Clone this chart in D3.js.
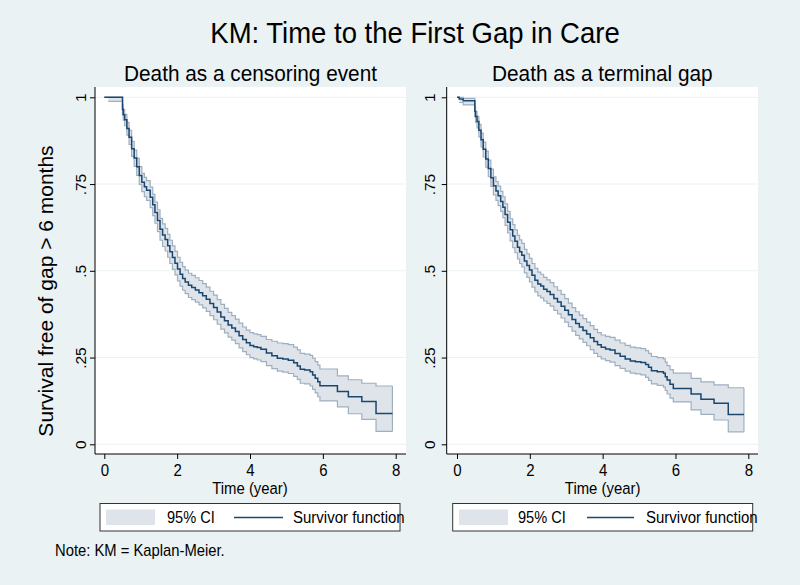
<!DOCTYPE html>
<html>
<head>
<meta charset="utf-8">
<script src="https://cdn.jsdelivr.net/npm/d3@7/dist/d3.min.js"></script>
<style>
  html, body { margin: 0; padding: 0; background: #eaf2f3; }
  svg { display: block; font-family: "Liberation Sans", Arial, Helvetica, sans-serif; }
</style>
</head>
<body>
<svg id="chart" width="800" height="585"></svg>
<script>
// ---------------- data ----------------
const chartTitle = "KM: Time to the First Gap in Care";
const panelTitles = ["Death as a censoring event", "Death as a terminal gap"];
const yTitle = "Survival free of gap > 6 months";
const xTitle = "Time (year)";
const noteText = "Note: KM = Kaplan-Meier.";
const legendLabels = ["95% CI", "Survivor function"];
const xTicks = [0, 2, 4, 6, 8];
const yTicks = [0, 0.25, 0.5, 0.75, 1];
const yTickLabels = ["0", ".25", ".5", ".75", "1"];

// Panel 1: death as a censoring event
const leftTime = [0, 0.11, 0.5, 0.52, 0.56, 0.62, 0.68, 0.75, 0.82, 0.89, 0.96, 1.03, 1.1, 1.16, 1.26, 1.33, 1.39, 1.46, 1.53, 1.6, 1.67, 1.74, 1.8, 1.87, 1.94, 2.01, 2.08, 2.15, 2.22, 2.31, 2.4, 2.5, 2.6, 2.7, 2.8, 2.9, 3.0, 3.1, 3.2, 3.3, 3.4, 3.5, 3.6, 3.7, 3.8, 3.9, 4.0, 4.1, 4.2, 4.3, 4.45, 4.6, 4.75, 4.9, 5.05, 5.2, 5.3, 5.38, 5.5, 5.65, 5.72, 5.79, 5.86, 5.92, 6.4, 6.7, 7.07, 7.46, 7.91];
const leftSurv = [1, 1, 0.965, 0.95, 0.935, 0.91, 0.885, 0.852, 0.825, 0.80, 0.775, 0.755, 0.742, 0.732, 0.712, 0.69, 0.668, 0.645, 0.62, 0.603, 0.59, 0.572, 0.555, 0.538, 0.522, 0.505, 0.49, 0.478, 0.468, 0.458, 0.452, 0.445, 0.437, 0.428, 0.418, 0.406, 0.394, 0.381, 0.367, 0.356, 0.344, 0.335, 0.325, 0.313, 0.302, 0.293, 0.285, 0.281, 0.279, 0.274, 0.263, 0.255, 0.248, 0.246, 0.242, 0.235, 0.226, 0.216, 0.214, 0.209, 0.2, 0.19, 0.18, 0.169, 0.152, 0.137, 0.123, 0.089, 0.089];
const leftLow = [1, 0.988, 0.95, 0.934, 0.918, 0.891, 0.864, 0.83, 0.801, 0.775, 0.749, 0.728, 0.714, 0.703, 0.682, 0.659, 0.637, 0.613, 0.588, 0.57, 0.557, 0.539, 0.521, 0.504, 0.488, 0.471, 0.456, 0.444, 0.434, 0.423, 0.417, 0.41, 0.402, 0.393, 0.383, 0.371, 0.359, 0.346, 0.332, 0.321, 0.309, 0.3, 0.29, 0.278, 0.267, 0.258, 0.25, 0.246, 0.243, 0.238, 0.227, 0.218, 0.211, 0.208, 0.204, 0.196, 0.187, 0.176, 0.174, 0.168, 0.158, 0.148, 0.137, 0.125, 0.108, 0.088, 0.072, 0.037, 0.037];
const leftHigh = [1, 1, 0.978, 0.965, 0.951, 0.928, 0.905, 0.873, 0.848, 0.824, 0.80, 0.781, 0.769, 0.76, 0.741, 0.72, 0.698, 0.676, 0.651, 0.635, 0.622, 0.605, 0.588, 0.572, 0.556, 0.539, 0.524, 0.512, 0.502, 0.493, 0.487, 0.48, 0.472, 0.463, 0.453, 0.441, 0.43, 0.417, 0.403, 0.392, 0.38, 0.371, 0.361, 0.349, 0.338, 0.329, 0.322, 0.318, 0.316, 0.311, 0.302, 0.297, 0.292, 0.29, 0.287, 0.28, 0.272, 0.262, 0.26, 0.256, 0.248, 0.238, 0.228, 0.217, 0.197, 0.186, 0.176, 0.168, 0.168];

// Panel 2: death as a terminal gap
const rightTime = [0, 0.06, 0.17, 0.49, 0.51, 0.55, 0.6, 0.66, 0.72, 0.79, 0.86, 0.93, 1.0, 1.07, 1.13, 1.2, 1.26, 1.32, 1.39, 1.46, 1.53, 1.59, 1.66, 1.72, 1.78, 1.85, 1.92, 1.99, 2.06, 2.14, 2.22, 2.3, 2.38, 2.47, 2.56, 2.66, 2.76, 2.86, 2.96, 3.06, 3.16, 3.26, 3.36, 3.46, 3.56, 3.66, 3.76, 3.86, 3.96, 4.08, 4.2, 4.34, 4.48, 4.62, 4.76, 4.9, 5.05, 5.18, 5.26, 5.34, 5.5, 5.67, 5.72, 5.77, 5.85, 5.94, 6.43, 6.7, 7.06, 7.45, 7.88];
const rightSurv = [1, 0.995, 0.99, 0.96, 0.945, 0.93, 0.905, 0.878, 0.85, 0.822, 0.795, 0.768, 0.745, 0.73, 0.716, 0.7, 0.683, 0.662, 0.64, 0.618, 0.6, 0.585, 0.568, 0.555, 0.545, 0.528, 0.515, 0.502, 0.487, 0.473, 0.462, 0.456, 0.447, 0.44, 0.432, 0.42, 0.41, 0.398, 0.386, 0.373, 0.36, 0.348, 0.338, 0.328, 0.318, 0.307, 0.296, 0.287, 0.28, 0.275, 0.272, 0.262, 0.254, 0.246, 0.24, 0.238, 0.236, 0.23, 0.222, 0.212, 0.209, 0.205, 0.195, 0.185, 0.173, 0.161, 0.145, 0.13, 0.118, 0.086, 0.086];
const rightLow = [1, 0.985, 0.978, 0.944, 0.928, 0.912, 0.886, 0.857, 0.828, 0.799, 0.771, 0.743, 0.719, 0.703, 0.688, 0.671, 0.653, 0.631, 0.609, 0.586, 0.567, 0.552, 0.534, 0.521, 0.511, 0.494, 0.481, 0.468, 0.453, 0.439, 0.428, 0.422, 0.413, 0.406, 0.398, 0.386, 0.376, 0.364, 0.352, 0.339, 0.326, 0.314, 0.304, 0.294, 0.284, 0.273, 0.262, 0.253, 0.246, 0.241, 0.237, 0.227, 0.219, 0.211, 0.205, 0.203, 0.2, 0.193, 0.184, 0.174, 0.17, 0.165, 0.155, 0.145, 0.133, 0.122, 0.099, 0.086, 0.07, 0.036, 0.036];
const rightHigh = [1, 1, 0.997, 0.973, 0.959, 0.945, 0.922, 0.897, 0.871, 0.845, 0.819, 0.793, 0.771, 0.757, 0.744, 0.729, 0.713, 0.693, 0.671, 0.65, 0.633, 0.618, 0.602, 0.589, 0.579, 0.562, 0.549, 0.536, 0.521, 0.507, 0.496, 0.49, 0.481, 0.474, 0.466, 0.454, 0.444, 0.432, 0.42, 0.407, 0.394, 0.382, 0.372, 0.362, 0.352, 0.342, 0.331, 0.322, 0.315, 0.311, 0.308, 0.3, 0.292, 0.285, 0.28, 0.278, 0.276, 0.27, 0.262, 0.253, 0.25, 0.246, 0.237, 0.227, 0.215, 0.205, 0.19, 0.18, 0.171, 0.163, 0.163];

// ---------------- drawing ----------------
const C = {
  bg: "#eaf2f3", plot: "#ffffff", grid: "#eaf2f3",
  ciFill: "#dfe4ea", ciEdge: "#9eafc0", line: "#1a476f", axis: "#000000"
};
const SY = 1.08; // slight vertical stretch of horizontal text, as in the reference
const svg = d3.select("#chart");
svg.append("rect").attr("width", 800).attr("height", 585).attr("fill", C.bg);

function htext(parent, x, y, size, str, anchor) {
  return parent.append("text")
    .attr("transform", `translate(${x},${y}) scale(1,${SY})`)
    .attr("text-anchor", anchor || "start")
    .attr("font-size", size).attr("fill", "#000").text(str);
}

htext(svg, 415, 43, 27.5, chartTitle, "middle");

svg.append("text").attr("transform", "translate(53,291) rotate(-90)")
  .attr("text-anchor", "middle").attr("font-size", 21).attr("fill", "#000").text(yTitle);

htext(svg, 55, 556, 14.8, noteText);

const panels = [
  { title: panelTitles[0], time: leftTime, surv: leftSurv, lo: leftLow, hi: leftHigh,
    box: [95, 87, 406, 454], xr: [104.3, 395.7], labX: 85.5,
    legend: { x: 100, swatch: 106, ciText: 167, lineX: [234, 283], survText: 293 } },
  { title: panelTitles[1], time: rightTime, surv: rightSurv, lo: rightLow, hi: rightHigh,
    box: [446.7, 87, 758, 454], xr: [457, 748.3], labX: 435,
    legend: { x: 452.7, swatch: 459, ciText: 518, lineX: [587, 634], survText: 646 } }
];

panels.forEach(p => {
  const [x0, y0, x1, y1] = p.box;
  const x = d3.scaleLinear().domain([0, 8]).range(p.xr);
  const y = d3.scaleLinear().domain([0, 1]).range([444.3, 97.3]);
  const g = svg.append("g");

  g.append("rect").attr("x", x0).attr("y", y0).attr("width", x1 - x0).attr("height", y1 - y0)
    .attr("fill", C.plot);

  // gridlines
  g.selectAll("line.grid").data(yTicks).join("line").attr("class", "grid")
    .attr("x1", x0).attr("x2", x1).attr("y1", d => y(d)).attr("y2", d => y(d))
    .attr("stroke", C.grid).attr("stroke-width", 1);

  const rows = p.time.map((t, i) => ({ t, s: p.surv[i], lo: p.lo[i], hi: p.hi[i] }));

  const area = d3.area().curve(d3.curveStepAfter)
    .x(d => x(d.t)).y0(d => y(d.lo)).y1(d => y(d.hi));
  g.append("path").datum(rows).attr("d", area).attr("fill", C.ciFill).attr("stroke", "none");

  const loLine = d3.line().curve(d3.curveStepAfter).x(d => x(d.t)).y(d => y(d.lo));
  const hiLine = d3.line().curve(d3.curveStepAfter).x(d => x(d.t)).y(d => y(d.hi));
  g.append("path").datum(rows.slice(1)).attr("d", loLine).attr("fill", "none")
    .attr("stroke", C.ciEdge).attr("stroke-width", 1.2);
  g.append("path").datum(rows).attr("d", hiLine).attr("fill", "none")
    .attr("stroke", C.ciEdge).attr("stroke-width", 1.2);
  const last = rows[rows.length - 1];
  g.append("line").attr("x1", x(last.t)).attr("x2", x(last.t))
    .attr("y1", y(last.lo)).attr("y2", y(last.hi))
    .attr("stroke", C.ciEdge).attr("stroke-width", 1.2);

  const sLine = d3.line().curve(d3.curveStepAfter).x(d => x(d.t)).y(d => y(d.s));
  g.append("path").datum(rows).attr("d", sLine).attr("fill", "none")
    .attr("stroke", C.line).attr("stroke-width", 1.5);

  // axes
  const yAxis = d3.axisLeft(y).tickValues(yTicks).tickSize(5)
    .tickFormat((d, i) => yTickLabels[i]);
  const ya = g.append("g").attr("transform", `translate(${x0},0)`).call(yAxis);
  ya.select(".domain").remove();
  ya.selectAll(".tick line").attr("stroke", C.axis);
  ya.selectAll(".tick text").attr("font-size", 15.5).attr("fill", "#000")
    .attr("font-family", "Liberation Sans, Arial, sans-serif")
    .attr("x", null).attr("dy", null).attr("text-anchor", "middle")
    .attr("transform", `translate(${p.labX - x0},0) rotate(-90)`);
  g.append("line").attr("x1", x0).attr("x2", x0).attr("y1", y0).attr("y2", y1)
    .attr("stroke", C.axis).attr("stroke-width", 1);

  const xAxis = d3.axisBottom(x).tickValues(xTicks).tickSize(5).tickFormat(d3.format("d"));
  const xa = g.append("g").attr("transform", `translate(0,${y1})`).call(xAxis);
  xa.select(".domain").remove();
  xa.selectAll(".tick line").attr("stroke", C.axis);
  xa.selectAll(".tick text").attr("font-size", 15).attr("fill", "#000")
    .attr("font-family", "Liberation Sans, Arial, sans-serif")
    .attr("y", null).attr("dy", null)
    .attr("transform", `translate(0,21.5) scale(1,${SY})`);
  g.append("line").attr("x1", x0).attr("x2", x1).attr("y1", y1).attr("y2", y1)
    .attr("stroke", C.axis).attr("stroke-width", 1);

  htext(g, (p.xr[0] + p.xr[1]) / 2, 494, 14.9, xTitle, "middle");
  htext(g, (x0 + x1) / 2, 80.5, 20.8, p.title, "middle");

  // legend
  const L = p.legend;
  g.append("rect").attr("x", L.x).attr("y", 503.5).attr("width", 300).attr("height", 27.5)
    .attr("fill", "#fff").attr("stroke", "#333").attr("stroke-width", 1);
  g.append("rect").attr("x", L.swatch).attr("y", 509.5).attr("width", 49).attr("height", 15.5)
    .attr("fill", C.ciFill);
  htext(g, L.ciText, 523, 14.6, legendLabels[0]);
  g.append("line").attr("x1", L.lineX[0]).attr("x2", L.lineX[1]).attr("y1", 517.5).attr("y2", 517.5)
    .attr("stroke", C.line).attr("stroke-width", 1.5);
  htext(g, L.survText, 523, 15, legendLabels[1]);
});
</script>
</body>
</html>
